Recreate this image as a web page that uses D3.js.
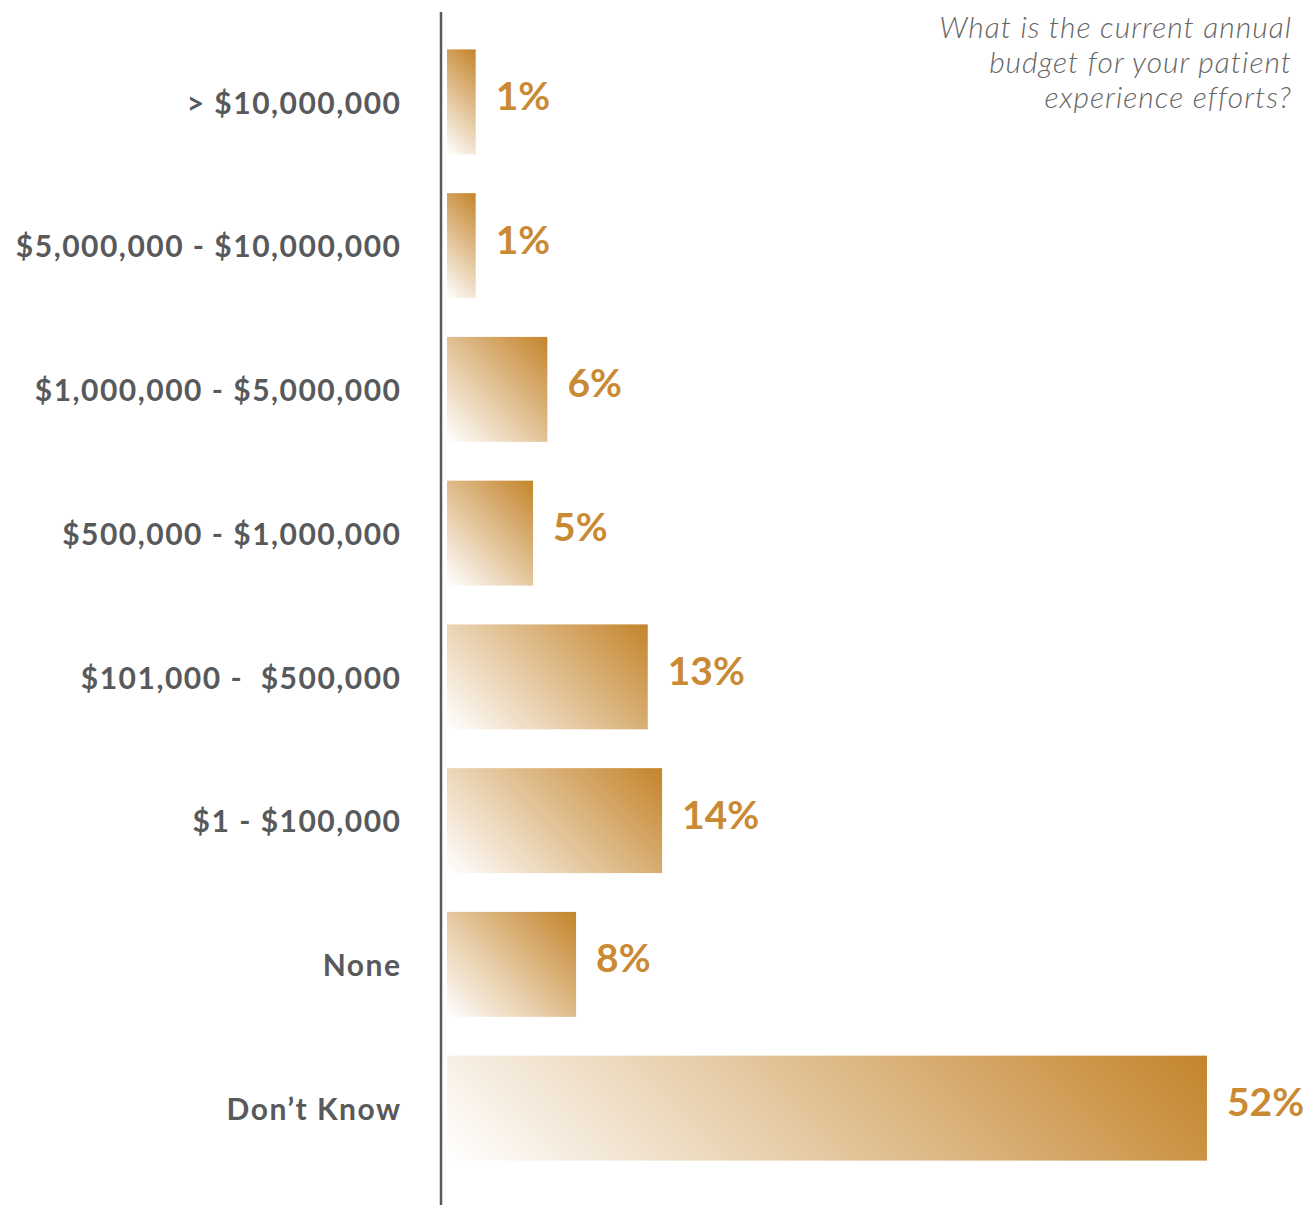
<!DOCTYPE html>
<html>
<head>
<meta charset="utf-8">
<script src="https://cdn.jsdelivr.net/npm/d3@7"></script>
<style>
  html, body { margin: 0; padding: 0; background: #ffffff; }
  svg { display: block; }
</style>
</head>
<body>
<svg id="chart" width="1310" height="1205"></svg>
<script>
// Budget brackets, top to bottom
const categories = [
  "> $10,000,000",
  "$5,000,000 - $10,000,000",
  "$1,000,000 - $5,000,000",
  "$500,000 - $1,000,000",
  "$101,000 -  $500,000",
  "$1 - $100,000",
  "None",
  "Don\u2019t Know"
];
// Share of respondents (%)
const values = [1, 1, 6, 5, 13, 14, 8, 52];
const titleLines = [
  "What is the current annual",
  "budget for your patient",
  "experience efforts?"
];

const svg = d3.select("#chart");
const barLeft = 447;

const x = d3.scaleLinear().domain([-1, 52]).range([0, 760]);
const y = d3.scaleBand()
  .domain(categories)
  .range([30, 1180])
  .paddingInner(0.27)
  .paddingOuter(0.135);

const data = categories.map((c, i) => ({ cat: c, val: values[i], i }));

// One 45-degree fade per bar, white at the lower left to gold at the upper right
const defs = svg.append("defs");
const grads = defs.selectAll("linearGradient")
  .data(data)
  .join("linearGradient")
  .attr("id", d => "fade" + d.i)
  .attr("gradientUnits", "userSpaceOnUse")
  .each(function (d) {
    const w = x(d.val), h = y.bandwidth();
    const x0 = barLeft, yb = y(d.cat) + h;
    const half = (w + h) / 2;
    d3.select(this)
      .attr("x1", x0).attr("y1", yb)
      .attr("x2", x0 + half).attr("y2", yb - half);
  });
grads.append("stop").attr("offset", 0).attr("stop-color", "#ffffff");
grads.append("stop").attr("offset", 1).attr("stop-color", "#c4842b");

svg.append("g").selectAll("rect")
  .data(data)
  .join("rect")
  .attr("x", barLeft)
  .attr("y", d => y(d.cat))
  .attr("width", d => x(d.val))
  .attr("height", y.bandwidth())
  .attr("fill", d => `url(#fade${d.i})`);

// Value labels
svg.append("g").selectAll("text")
  .data(data)
  .join("text")
  .attr("x", d => barLeft + x(d.val) + 20)
  .attr("y", d => y(d.cat) + y.bandwidth() / 2 - 6)
  .attr("dy", "0.36em")
  .attr("font-family", "Lato, 'Open Sans', sans-serif")
  .attr("font-weight", 700)
  .attr("font-size", 39)
  .attr("fill", "#c98a33")
  .text(d => d.val + "%");

// Category labels
svg.append("g").selectAll("text")
  .data(data)
  .join("text")
  .attr("x", 401.5)
  .attr("y", d => y(d.cat) + y.bandwidth() / 2 + 1)
  .attr("dy", "0.36em")
  .attr("text-anchor", "end")
  .attr("font-family", "Lato, 'Open Sans', sans-serif")
  .attr("font-weight", 700)
  .attr("font-size", 30)
  .attr("letter-spacing", 1.5)
  .attr("fill", "#58595b")
  .style("white-space", "pre")
  .text(d => d.cat);

// Category axis line
svg.append("line")
  .attr("x1", 441).attr("x2", 441)
  .attr("y1", 12).attr("y2", 1205)
  .attr("stroke", "#5a5a5a")
  .attr("stroke-width", 2.5);

// Question text, top right
svg.append("g").selectAll("text")
  .data(titleLines)
  .join("text")
  .attr("x", 1292)
  .attr("y", (d, i) => 38 + i * 35)
  .attr("text-anchor", "end")
  .attr("font-family", "Lato, 'Open Sans', sans-serif")
  .attr("font-style", "italic")
  .attr("font-weight", 300)
  .attr("font-size", 30)
  .attr("letter-spacing", 1)
  .attr("fill", "#666666")
  .text(d => d);
</script>
</body>
</html>
